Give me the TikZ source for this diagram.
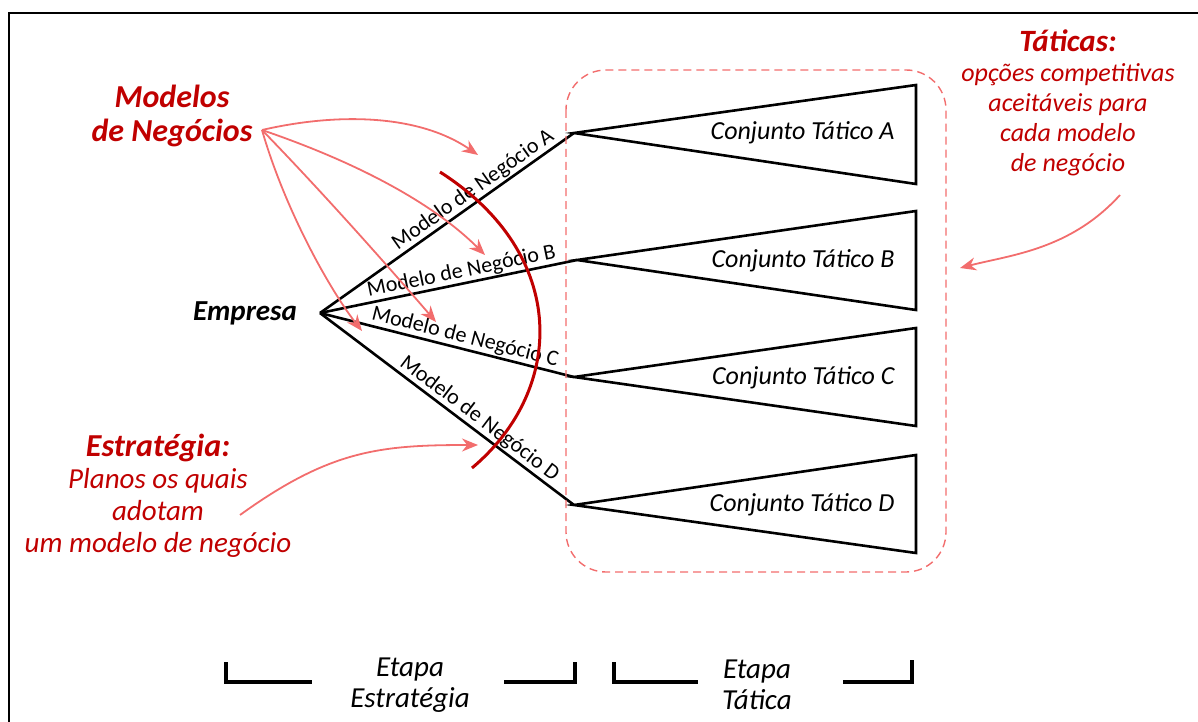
\documentclass[tikz,border=0pt]{standalone}
\usepackage{fontspec}
\setmainfont{Carlito}
\usetikzlibrary{arrows.meta, calc}

\definecolor{strongred}{HTML}{C00000}
\definecolor{softred}{HTML}{F26D6D}

\tikzset{
    branch/.style={line width=2.6pt, line join=round},
    tactic/.style={draw, line width=2.6pt, line join=miter},
    tacticlabel/.style={anchor=east, font=\fontsize{26}{30}\selectfont\itshape},
    branchlabel/.style={sloped, above, inner sep=1pt, font=\fontsize{22}{26}\selectfont},
    pointer/.style={softred, line width=1.8pt, -{Stealth[length=16pt, width=13pt]}},
    bracket/.style={line width=3.2pt},
    stage/.style={align=center, font=\fontsize{29}{31}\selectfont\itshape}
}

\begin{document}
\begin{tikzpicture}[x=1pt, y=-1pt]
    \useasboundingbox (0,0) rectangle (1198,722);
    % Frame
    \draw[line width=2pt] (9,722) -- (9,13) -- (1198,13);

    % Empresa and business model branches
    \node[font=\fontsize{29}{32}\selectfont\bfseries\itshape] (empresa) at (245,313) {Empresa};
    \coordinate (root) at (320,313);
    \coordinate (apexA) at (574,133);
    \coordinate (apexB) at (577,260);
    \coordinate (apexC) at (574,377);
    \coordinate (apexD) at (574,505);
    \draw[branch] (root) -- (apexA) node[branchlabel, pos=0.63] (labelA) {Modelo de Negócio A};
    \draw[branch] (root) -- (apexB) node[branchlabel, pos=0.56] (labelB) {Modelo de Negócio B};
    \draw[branch] (root) -- (apexC) node[branchlabel, pos=0.56] (labelC) {Modelo de Negócio C};
    \draw[branch] (root) -- (apexD) node[branchlabel, pos=0.6] (labelD) {Modelo de Negócio D};

    % Tactic sets
    \draw[tactic] (apexA) -- (916,85) -- (916,184) -- cycle;
    \draw[tactic] (apexB) -- (916,211) -- (916,310) -- cycle;
    \draw[tactic] (apexC) -- (916,328) -- (916,426) -- cycle;
    \draw[tactic] (apexD) -- (916,455) -- (916,553) -- cycle;
    \node[tacticlabel] (setA) at (898,133) {Conjunto Tático A};
    \node[tacticlabel] (setB) at (898,261) {Conjunto Tático B};
    \node[tacticlabel] (setC) at (898,378) {Conjunto Tático C};
    \node[tacticlabel] (setD) at (898,505) {Conjunto Tático D};

    % Tactic region
    \draw[softred, line width=1.4pt, dash pattern=on 8pt off 5pt, rounded corners=40pt] (566,70) rectangle (946,572);

    % Strategy arc
    \draw[strongred, line width=3pt] (440,172) .. controls (570,255) and (565,390) .. (472,468);

    % Modelos de Negocios
    \node[align=center, text=strongred, font=\fontsize{32}{34}\selectfont\bfseries\itshape] (modelos) at (172,116) {Modelos\\de Negócios};
    \coordinate (src) at (262,130);
    \coordinate (tipA) at (478,155);
    \coordinate (tipB) at (485,255);
    \coordinate (tipC) at (436,322);
    \coordinate (tipD) at (362,331);
    \draw[pointer] (src) .. controls (340,112) and (420,115) .. (tipA);
    \draw[pointer] (src) .. controls (350,160) and (430,200) .. (tipB);
    \draw[pointer] (src) .. controls (330,200) and (400,280) .. (tipC);
    \draw[pointer] (src) .. controls (285,210) and (330,290) .. (tipD);

    % Taticas
    \node[align=center, text=strongred, font=\fontsize{26}{30}\selectfont\itshape] (taticas) at (1068,103) {{\bfseries\fontsize{31}{30}\selectfont Táticas:}\\opções competitivas\\aceitáveis para\\cada modelo\\de negócio};
    \coordinate (tacStart) at (1120,195);
    \coordinate (tacEnd) at (960,268);
    \draw[pointer] (tacStart) .. controls (1070,250) and (1010,255) .. (tacEnd);

    % Estrategia
    \node[align=center, text=strongred, font=\fontsize{29}{32}\selectfont\itshape] (estrategia) at (158,496) {{\bfseries\fontsize{32}{32}\selectfont Estratégia:}\\Planos os quais\\adotam\\um modelo de negócio};
    \coordinate (estStart) at (240,515);
    \coordinate (estEnd) at (478,445);
    \draw[pointer] (estStart) .. controls (330,450) and (380,445) .. (estEnd);

    % Stages
    \draw[bracket] (226,662) -- (226,682) -- (312,682);
    \draw[bracket] (504,682) -- (575,682) -- (575,662);
    \node[stage] (etapaE) at (410,685) {Etapa\\Estratégia};
    \draw[bracket] (614,662) -- (614,682) -- (698,682);
    \draw[bracket] (843,682) -- (912,682) -- (912,660);
    \node[stage] (etapaT) at (757,685) {Etapa\\Tática};
\end{tikzpicture}
\end{document}
